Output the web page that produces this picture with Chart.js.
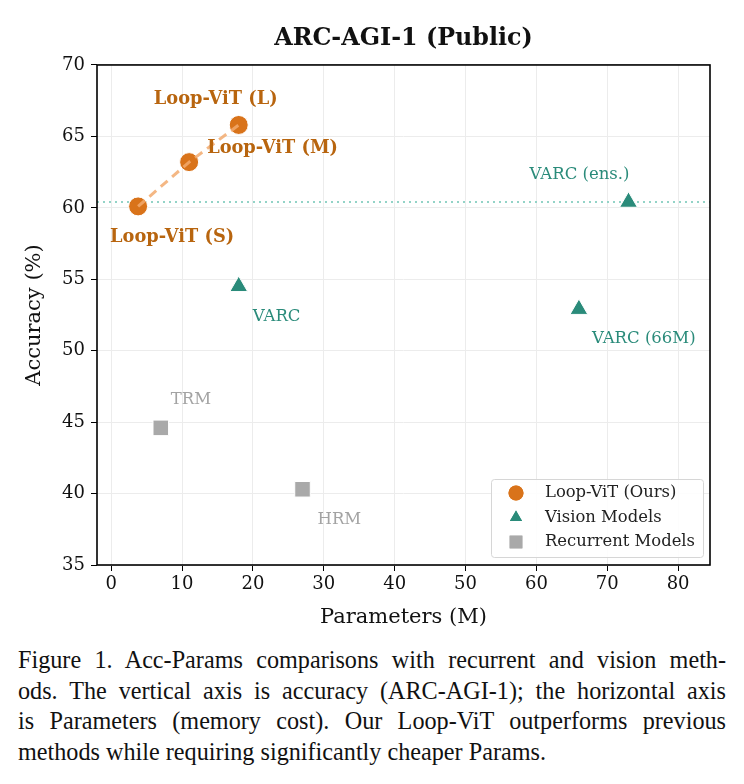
<!DOCTYPE html>
<html>
<head>
<meta charset="utf-8">
<script src="https://cdn.jsdelivr.net/npm/chart.js@4.4.1/dist/chart.umd.min.js"></script>
<style>
  body { margin: 0; background: #fff; }
  #wrap { position: relative; width: 744px; height: 784px; }
  #chartBox { position: absolute; left: 0; top: 0; width: 744px; height: 640px; }
  #caption { position: absolute; left: 18px; top: 645px; width: 708px;
    font-family: 'Liberation Serif', 'Times New Roman', serif; font-size: 24.2px; line-height: 30.7px; color: #111; }
  #caption div { text-align: justify; text-align-last: justify; white-space: nowrap; }
  #caption div.last { text-align-last: left; }
</style>
</head>
<body>
<div id="wrap">
  <div id="chartBox"><canvas id="myChart" width="744" height="640"></canvas></div>
  <div id="caption">
    <div>Figure 1. Acc-Params comparisons with recurrent and vision meth-</div>
    <div>ods. The vertical axis is accuracy (ARC-AGI-1); the horizontal axis</div>
    <div>is Parameters (memory cost). Our Loop-ViT outperforms previous</div>
    <div class="last">methods while requiring significantly cheaper Params.</div>
  </div>
</div>
<script>
// values
let loopNames = ["Loop-ViT (S)", "Loop-ViT (M)", "Loop-ViT (L)"];
let loopParams = [3.8, 11.0, 18.0];
let loopAcc = [60.1, 63.2, 65.8];

let visionNames = ["VARC", "VARC (66M)", "VARC (ens.)"];
let visionParams = [18.0, 66.0, 73.0];
let visionAcc = [54.5, 52.9, 60.4];

let recurNames = ["TRM", "HRM"];
let recurParams = [7.0, 27.0];
let recurAcc = [44.6, 40.3];

let xTicks = [0, 10, 20, 30, 40, 50, 60, 70, 80];
let yTicks = [35, 40, 45, 50, 55, 60, 65, 70];

const SERIF = "'DejaVu Serif', serif";
const ORANGE = "#d9731a";
const ORANGE_TXT = "#b8650f";
const TEAL = "#2a8b7a";
const GRAY = "#a9a9a9";
const GRAY_TXT = "#a3a3a3";

const toPts = (xs, ys) => xs.map((x, i) => ({x: x, y: ys[i]}));

// label offsets (pixels) relative to each point, and text alignment
const labelStyle = {
  "Loop-ViT (S)": {dx: 34, dy: 31, align: "center", bold: true, color: ORANGE_TXT},
  "Loop-ViT (M)": {dx: 18, dy: -14, align: "left", bold: true, color: ORANGE_TXT},
  "Loop-ViT (L)": {dx: -23, dy: -26, align: "center", bold: true, color: ORANGE_TXT},
  "VARC": {dx: 14, dy: 30, align: "left", color: TEAL},
  "VARC (66M)": {dx: 13, dy: 29, align: "left", color: TEAL},
  "VARC (ens.)": {dx: -49, dy: -27, align: "center", color: TEAL},
  "TRM": {dx: 10, dy: -28, align: "left", color: GRAY_TXT},
  "HRM": {dx: 15, dy: 30, align: "left", color: GRAY_TXT}
};

const annotate = {
  id: "annotate",
  beforeDatasetsDraw(chart) {
    const {ctx, chartArea, scales} = chart;
    // dotted reference line at the ensemble accuracy
    const yEns = scales.y.getPixelForValue(visionAcc[2]);
    ctx.save();
    ctx.strokeStyle = "#93d3c7";
    ctx.lineWidth = 2;
    ctx.setLineDash([2, 4]);
    ctx.beginPath();
    ctx.moveTo(chartArea.left, yEns);
    ctx.lineTo(chartArea.right, yEns);
    ctx.stroke();
    ctx.restore();
  },
  afterDraw(chart) {
    const {ctx, chartArea, scales} = chart;
    ctx.save();
    // frame
    ctx.strokeStyle = "#000";
    ctx.lineWidth = 1.6;
    ctx.strokeRect(chartArea.left, chartArea.top, chartArea.right - chartArea.left, chartArea.bottom - chartArea.top);

    // point labels
    const groups = [[loopNames, loopParams, loopAcc], [visionNames, visionParams, visionAcc], [recurNames, recurParams, recurAcc]];
    ctx.textBaseline = "middle";
    groups.forEach(g => {
      g[0].forEach((name, i) => {
        const st = labelStyle[name];
        const px = scales.x.getPixelForValue(g[1][i]);
        const py = scales.y.getPixelForValue(g[2][i]);
        ctx.font = st.bold ? "bold 17.8px " + SERIF : "16.5px " + SERIF;
        ctx.fillStyle = st.color;
        ctx.textAlign = st.align;
        ctx.fillText(name, px + st.dx, py + st.dy);
      });
    });

    // legend
    const bw = 212, bh = 78;
    const bx = chartArea.right - 7 - bw, by = chartArea.bottom - 8 - bh;
    ctx.fillStyle = "rgba(255,255,255,0.9)";
    ctx.strokeStyle = "#d6d6d6";
    ctx.lineWidth = 1;
    ctx.beginPath();
    ctx.roundRect(bx + 0.5, by + 0.5, bw, bh, 3);
    ctx.fill();
    ctx.stroke();
    const items = [
      {label: "Loop-ViT (Ours)", style: "circle", color: ORANGE, r: 7.5},
      {label: "Vision Models", style: "triangle", color: TEAL, r: 7},
      {label: "Recurrent Models", style: "rect", color: GRAY, r: 9}
    ];
    ctx.font = "16.4px " + SERIF;
    ctx.textAlign = "left";
    items.forEach((it, i) => {
      const cy = by + 14 + i * 24.5;
      ctx.fillStyle = it.color;
      Chart.helpers.drawPoint(ctx, {pointStyle: it.style, radius: it.r, borderWidth: 0}, bx + 25, cy);
      ctx.fill();
      ctx.fillStyle = "#222";
      ctx.fillText(it.label, bx + 54, cy);
    });
    ctx.restore();
  }
};

const ctx = document.getElementById("myChart");

new Chart(ctx, {
  type: "scatter",
  data: {
    datasets: [
      {
        label: "Loop-ViT trend",
        data: toPts(loopParams, loopAcc),
        showLine: true,
        borderColor: "rgba(242,170,110,0.85)",
        borderWidth: 3,
        borderDash: [9, 6],
        pointRadius: 0,
        pointHoverRadius: 0
      },
      {
        label: "Loop-ViT (Ours)",
        data: toPts(loopParams, loopAcc),
        pointStyle: "circle",
        pointRadius: 9.5,
        backgroundColor: ORANGE,
        borderColor: "#fff",
        borderWidth: 1
      },
      {
        label: "Vision Models",
        data: toPts(visionParams, visionAcc),
        pointStyle: "triangle",
        pointRadius: 10.3,
        backgroundColor: TEAL,
        borderColor: "#fff",
        borderWidth: 1
      },
      {
        label: "Recurrent Models",
        data: toPts(recurParams, recurAcc),
        pointStyle: "rect",
        pointRadius: 11,
        backgroundColor: GRAY,
        borderColor: "#fff",
        borderWidth: 1
      }
    ]
  },
  options: {
    responsive: false,
    animation: false,
    layout: {padding: {left: 0, right: 34, top: 0, bottom: 0}},
    plugins: {
      legend: {display: false},
      tooltip: {enabled: false},
      title: {
        display: true,
        text: "ARC-AGI-1 (Public)",
        fullSize: false,
        color: "#111",
        font: {family: SERIF, size: 23.8, weight: "bold", lineHeight: 1.2},
        padding: {top: 24.4, bottom: 12}
      }
    },
    scales: {
      x: {
        type: "linear",
        min: -2,
        max: 84.5,
        afterBuildTicks: s => { s.ticks = xTicks.map(v => ({value: v})); },
        afterFit: s => { s.height = 75; },
        grid: {color: "#ececec", tickColor: "#000", tickLength: 6, lineWidth: 1},
        border: {display: false},
        ticks: {color: "#111", padding: 3, font: {family: SERIF, size: 18}},
        title: {display: true, text: "Parameters (M)", color: "#111",
          font: {family: SERIF, size: 21}, padding: {top: 9.4, bottom: 9.4}}
      },
      y: {
        type: "linear",
        min: 35,
        max: 70,
        afterBuildTicks: s => { s.ticks = yTicks.map(v => ({value: v})); },
        afterFit: s => { s.width = 97; },
        grid: {color: "#ececec", tickColor: "#000", tickLength: 6, lineWidth: 1},
        border: {display: false},
        ticks: {color: "#111", padding: 6, font: {family: SERIF, size: 18}},
        title: {display: true, text: "Accuracy (%)", color: "#111",
          font: {family: SERIF, size: 21}, padding: {top: 22.4, bottom: 22.4}}
      }
    }
  },
  plugins: [annotate]
});
</script>
</body>
</html>
